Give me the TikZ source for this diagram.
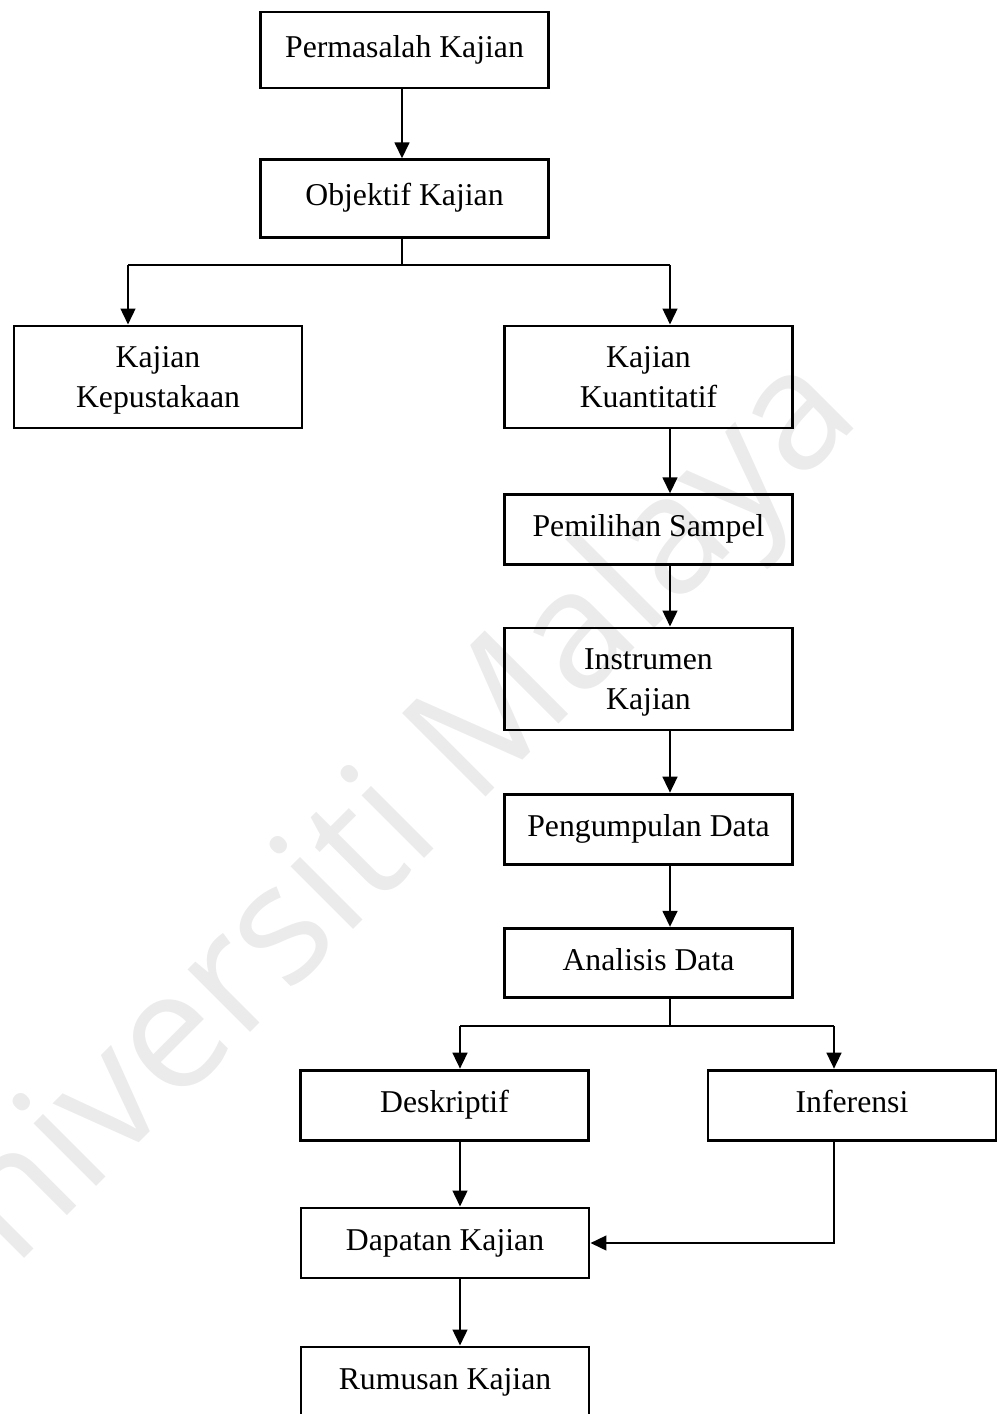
\documentclass[tikz,border=0pt]{standalone}
\usepackage{fontspec}
\setmainfont{Liberation Serif}
\newfontfamily\wmfont{Open Sans}
\usetikzlibrary{arrows.meta}
\definecolor{wmgray}{HTML}{EBEBEB}
\newcommand{\lnstrut}{\rule[-5.5pt]{0pt}{27.1pt}}
\newcommand{\lnstrutb}{\rule[-5.5pt]{0pt}{20pt}}
\begin{document}
\begin{tikzpicture}[x=0.75pt,y=-0.75pt,
  box/.style={draw=black,line width=2.2pt,inner sep=0pt,align=center,
    font=\fontsize{23.8pt}{30pt}\selectfont,minimum width=216pt},
  one/.style={box,text height=16pt,text depth=5.5pt},
  arr/.style={line width=1.8pt,-{Triangle[width=11pt,length=12pt]}},
  ln/.style={line width=1.8pt}]
\useasboundingbox (0,0) rectangle (1003,1414);
% watermark
\node[text=wmgray,font=\wmfont\fontsize{124pt}{124pt}\selectfont,rotate=45,inner sep=0pt] (wm) at (366,856) {Universiti Malaya};
% boxes
\node[one,minimum height=57pt] (b1) at (404.5,50) {Permasalah Kajian};
\node[one,minimum height=58pt] (b2) at (404.5,198.5) {Objektif Kajian};
\node[box,minimum height=76.5pt] (b3) at (158,377) {\lnstrut Kajian\\\lnstrutb Kepustakaan};
\node[box,minimum height=76.5pt] (b4) at (648.5,377) {\lnstrut Kajian\\\lnstrutb Kuantitatif};
\node[one,minimum height=52pt] (b5) at (648.5,529.5) {Pemilihan Sampel};
\node[box,minimum height=76.5pt] (b6) at (648.5,679) {\lnstrut Instrumen\\\lnstrutb Kajian};
\node[one,minimum height=53pt] (b7) at (648.5,829.5) {Pengumpulan Data};
\node[one,minimum height=52pt] (b8) at (648.5,963) {Analisis Data};
\node[one,minimum height=53pt] (b9) at (444.5,1105.5) {Deskriptif};
\node[one,minimum height=53pt] (b10) at (852,1105.5) {Inferensi};
\node[one,minimum height=52.5pt] (b11) at (445,1243) {Dapatan Kajian};
\node[one,minimum height=52.5pt] (b12) at (445,1382) {Rumusan Kajian};
% helper coordinates
\coordinate (cx1) at (402,0);
\coordinate (split1) at (402,265);
\coordinate (lx) at (128,0);
\coordinate (rx) at (670,0);
\coordinate (split2) at (670,1026);
\coordinate (dx) at (460,0);
\coordinate (ix) at (834,0);
% connectors
\draw[arr] (b1.south -| cx1) -- (b2.north -| cx1);
\draw[ln] (b2.south -| cx1) -- (split1);
\draw[arr] (split1 -| lx) -- (b3.north -| lx);
\draw[arr] (split1 -| rx) -- (b4.north -| rx);
\draw[ln] (split1 -| lx) -- (split1 -| rx);
\draw[arr] (b4.south -| rx) -- (b5.north -| rx);
\draw[arr] (b5.south -| rx) -- (b6.north -| rx);
\draw[arr] (b6.south -| rx) -- (b7.north -| rx);
\draw[arr] (b7.south -| rx) -- (b8.north -| rx);
\draw[ln] (b8.south -| rx) -- (split2);
\draw[ln] (split2 -| dx) -- (split2 -| ix);
\draw[arr] (split2 -| dx) -- (b9.north -| dx);
\draw[arr] (split2 -| ix) -- (b10.north -| ix);
\draw[arr] (b9.south -| dx) -- (b11.north -| dx);
\draw[arr] (b10.south -| ix) |- (b11.east);
\draw[arr] (b11.south -| dx) -- (b12.north -| dx);
\end{tikzpicture}
\end{document}
